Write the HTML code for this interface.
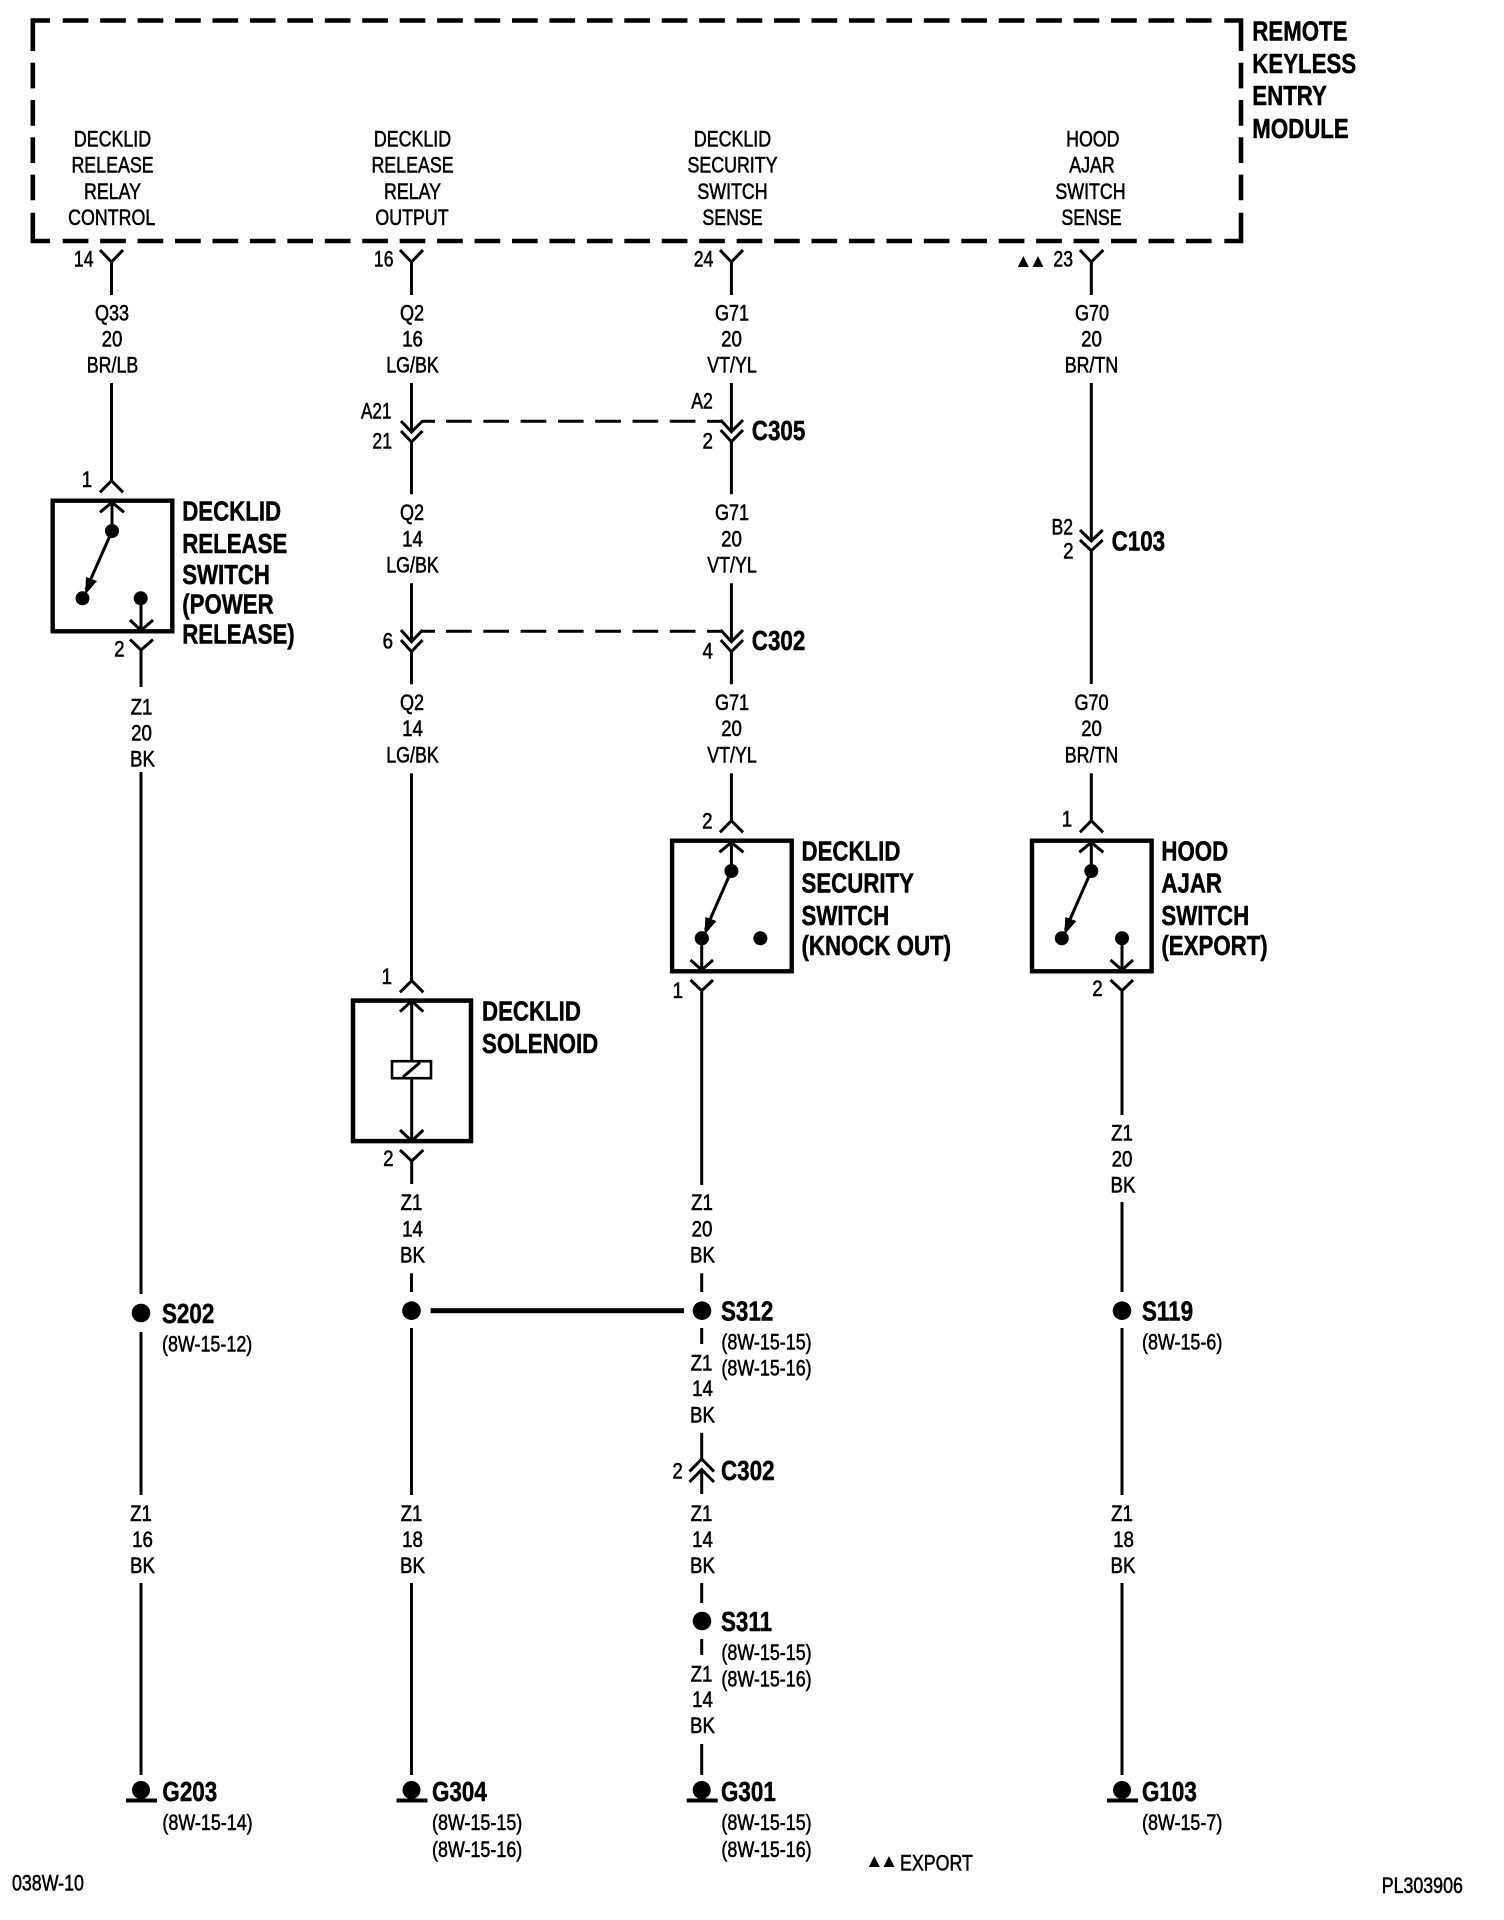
<!DOCTYPE html>
<html><head><meta charset="utf-8"><title>Wiring diagram</title>
<style>
html,body{margin:0;padding:0;background:#fff}
svg{display:block}
text{font-family:"Liberation Sans",sans-serif;fill:#000}
.t,.e,.f,.g{font-size:22px;stroke:#000;stroke-width:.55px}
.t{text-anchor:middle}
.e{text-anchor:end}
.b{font-size:28px;font-weight:700;stroke:#000;stroke-width:.5px}
.w{fill:none;stroke:#000;stroke-width:3}
</style></head><body>
<svg xmlns="http://www.w3.org/2000/svg" width="1504" height="1920" viewBox="0 0 1504 1920">
<rect width="1504" height="1920" fill="#fff"/>
<defs>
<g id="sw">
<rect x="52.7" y="500.7" width="119.6" height="130.6" fill="none" stroke="#000" stroke-width="4.4"/>
<path class="w" d="M100 512.3L112 502.3L124 512.3M112 502V531"/>
<circle cx="112" cy="531" r="7"/>
<circle cx="82.5" cy="598.3" r="7"/>
<path class="w" d="M112 531L86 590" stroke-width="2.6"/>
<polygon points="85,595 86,577 97,581"/>
</g>
</defs>

<!-- Module box -->
<g fill="none" stroke="#000" stroke-width="4.6">
<path d="M50 20.5H32.8V51"/><path d="M32.8 212.7V241H50"/>
<path d="M1224.3 20.5H1241V51"/><path d="M1241 212.7V241H1224.3"/>
<path d="M62.7 20.5H1212" stroke-dasharray="25.7 11.74"/>
<path d="M62.7 241H1212" stroke-dasharray="25.7 11.74"/>
<path d="M32.8 62.7V200.7" stroke-dasharray="25.7 11.6"/>
<path d="M1241 62.7V200.7" stroke-dasharray="25.7 11.6"/>
</g>

<!-- Wires -->
<g class="w">
<!-- column A -->
<path d="M100 250L111.5 262L123 250M111.5 262V295M111.5 383V481M100 492.3L111.5 480.7L123 492.3"/>
<path d="M130 639.5L141 650L153 639.5M141 650V687M141 772V1294M141 1332V1495M141 1583V1775"/>
<path d="M130 620L141 630.5L153 620M141 598V630"/>
<!-- column B -->
<path d="M400 250L411.5 262L423 250M411.5 262V295M411.5 383V432"/>
<path d="M401 421L411.5 432L422.5 421M401 431L411.5 442L422.5 431M411.5 442V494.3M411.5 583.3V641.7"/>
<path d="M401 630L411.5 641.7L422.5 630M401 640L411.5 651.7L422.5 640M411.5 651.7V684.3M411.5 773.3V980.7"/>
<path d="M400 992.3L411.7 980.7L423.3 992.3M400 1011.7L411.7 1001L423.3 1011.7M411.7 1001V1060M411.7 1079V1140M400 1130L411.7 1141L423.3 1130"/>
<path d="M400 1150L411.7 1161L423.3 1150M411.7 1161V1184M411.5 1273.3V1292M411.5 1328V1495M411.5 1583V1775"/>
<!-- column C -->
<path d="M720 250L731.4 262L743 250M731.4 262V295M731.4 383V431.7"/>
<path d="M720.7 420L731.4 431.7L743 420M720.7 430L731.4 441.7L743 430M731.4 441.7V494.3M731.4 583.3V641.7"/>
<path d="M720.7 630L731.4 641.7L743 630M720.7 640L731.4 651.7L743 640M731.4 651.7V684.3M731.4 773.3V821M720 832.3L731.4 820.7L743 832.3"/>
<path d="M701.7 938V970M690.5 960L701.7 970L713 960"/>
<path d="M690.5 980L701.7 990.7L713 980M701.7 990.7V1185M701.7 1273.3V1292M701.7 1328V1344M701.7 1432.7V1459"/>
<path d="M689.5 1471.6L701.7 1459L714 1471.6M689.5 1482L701.7 1469.6L714 1482M701.7 1469.6V1494M701.7 1583V1603M701.7 1639V1655M701.7 1744V1775"/>
<!-- column D -->
<path d="M1080 250L1091.3 262L1103.3 250M1091.3 262V295M1091.3 383V541"/>
<path d="M1080 530L1091.3 541L1102.7 530M1080 540L1091.3 550.7L1102.7 540M1091.3 550.7V684M1091.3 773.3V821M1080 832.3L1091.3 820.7L1103 832.3"/>
<path d="M1122 938V970M1110.5 960L1122 970L1133 960"/>
<path d="M1110.5 980L1122 990.7L1133 980M1122 990.7V1115M1122 1202V1292M1122 1328V1495M1122 1583V1775"/>
</g>

<!-- Dashed connector links -->
<g fill="none" stroke="#000" stroke-width="3">
<path d="M421.7 421.3H435M446 421.3H709" /><path d="M709 421.3H722"/>
<path d="M421.7 631.3H435M446 631.3H709"/><path d="M709 631.3H722"/>
</g>
<g stroke="#fff" stroke-width="5" fill="none">
<path d="M471.7 421.3H709" stroke-dasharray="11.6 25.7"/>
<path d="M471.7 631.3H709" stroke-dasharray="11.6 25.7"/>
</g>

<!-- Switches -->
<use href="#sw"/>
<use href="#sw" x="619.4" y="340"/>
<use href="#sw" x="979.3" y="340"/>
<circle cx="140.7" cy="598.3" r="7"/>
<circle cx="701.7" cy="938.3" r="7"/>
<circle cx="760.4" cy="938.3" r="7"/>
<circle cx="1122" cy="938.3" r="7"/>

<!-- Solenoid -->
<rect x="353" y="1000.6" width="118" height="140.5" fill="none" stroke="#000" stroke-width="4.5"/>
<rect x="392" y="1061.2" width="39" height="17" fill="#fff" stroke="#000" stroke-width="2.6"/>
<path d="M403 1077L420 1062.5" stroke="#000" stroke-width="3" fill="none"/>

<!-- Splices -->
<circle cx="141" cy="1313" r="9.3"/>
<circle cx="411.5" cy="1310.7" r="9.3"/>
<circle cx="702" cy="1310.7" r="9.3"/>
<circle cx="702" cy="1621" r="9.3"/>
<circle cx="1122" cy="1310.7" r="9.3"/>
<rect x="430.6" y="1308.2" width="253.4" height="5"/>

<!-- Grounds -->
<g id="gnd"><circle cx="141" cy="1790" r="9"/><rect x="126" y="1798.5" width="31" height="4"/></g>
<use href="#gnd" x="270.5"/>
<use href="#gnd" x="560.7"/>
<use href="#gnd" x="981"/>

<!-- Triangles -->
<polygon points="1017.8,267 1023.3,256 1028.8,267"/>
<polygon points="1032.5,267 1038,256 1043.5,267"/>
<polygon points="868.8,1867 874.3,1856 879.8,1867"/>
<polygon points="883.5,1867 889,1856 894.5,1867"/>

<!-- Module pin labels -->
<text class="t" transform="translate(112.5 146.7) scale(.81 1)">DECKLID</text>
<text class="t" transform="translate(112.5 172.7) scale(.81 1)">RELEASE</text>
<text class="t" transform="translate(112.5 199) scale(.81 1)">RELAY</text>
<text class="t" transform="translate(111.7 225) scale(.81 1)">CONTROL</text>
<text class="t" transform="translate(412.5 146.7) scale(.81 1)">DECKLID</text>
<text class="t" transform="translate(412.5 172.7) scale(.81 1)">RELEASE</text>
<text class="t" transform="translate(412.5 199) scale(.81 1)">RELAY</text>
<text class="t" transform="translate(412 225) scale(.81 1)">OUTPUT</text>
<text class="t" transform="translate(732.5 146.7) scale(.81 1)">DECKLID</text>
<text class="t" transform="translate(732.5 172.7) scale(.81 1)">SECURITY</text>
<text class="t" transform="translate(732.5 199) scale(.81 1)">SWITCH</text>
<text class="t" transform="translate(732.5 225) scale(.81 1)">SENSE</text>
<text class="t" transform="translate(1092.8 146.7) scale(.81 1)">HOOD</text>
<text class="t" transform="translate(1092 172.7) scale(.81 1)">AJAR</text>
<text class="t" transform="translate(1090.5 199) scale(.81 1)">SWITCH</text>
<text class="t" transform="translate(1091.5 225) scale(.81 1)">SENSE</text>

<!-- Pin numbers -->
<text class="e" transform="translate(93.5 266.7) scale(.8 1)">14</text>
<text class="e" transform="translate(393.5 266.7) scale(.8 1)">16</text>
<text class="e" transform="translate(713.3 266.7) scale(.8 1)">24</text>
<text class="e" transform="translate(1073 266.7) scale(.8 1)">23</text>
<text class="e" transform="translate(92.2 487) scale(.85 1)">1</text>
<text class="e" transform="translate(124.5 656.7) scale(.85 1)">2</text>
<text class="e" transform="translate(391.5 418.3) scale(.78 1)">A21</text>
<text class="e" transform="translate(392 448.3) scale(.8 1)">21</text>
<text class="e" transform="translate(712.8 408.3) scale(.8 1)">A2</text>
<text class="e" transform="translate(712.9 448.3) scale(.85 1)">2</text>
<text class="e" transform="translate(393 648.3) scale(.85 1)">6</text>
<text class="e" transform="translate(712.9 658.3) scale(.85 1)">4</text>
<text class="e" transform="translate(1073 534.3) scale(.8 1)">B2</text>
<text class="e" transform="translate(1073.5 558.3) scale(.85 1)">2</text>
<text class="e" transform="translate(392 984) scale(.85 1)">1</text>
<text class="e" transform="translate(393.5 1166) scale(.85 1)">2</text>
<text class="e" transform="translate(712.5 828.3) scale(.85 1)">2</text>
<text class="e" transform="translate(1072.2 826.7) scale(.85 1)">1</text>
<text class="e" transform="translate(683 998) scale(.85 1)">1</text>
<text class="e" transform="translate(1102.6 996) scale(.85 1)">2</text>
<text class="e" transform="translate(682.8 1478.6) scale(.85 1)">2</text>

<!-- Wire labels: column A -->
<text class="t" transform="translate(112 320.7) scale(.82 1)">Q33</text>
<text class="t" transform="translate(112 346.7) scale(.85 1)">20</text>
<text class="t" transform="translate(112.5 372.3) scale(.81 1)">BR/LB</text>
<text class="t" transform="translate(141.5 714.6) scale(.85 1)">Z1</text>
<text class="t" transform="translate(141.5 740.6) scale(.85 1)">20</text>
<text class="t" transform="translate(142.5 766.4) scale(.85 1)">BK</text>
<text class="t" transform="translate(141 1521) scale(.85 1)">Z1</text>
<text class="t" transform="translate(142.5 1547) scale(.85 1)">16</text>
<text class="t" transform="translate(142.5 1573) scale(.85 1)">BK</text>

<!-- column B -->
<text class="t" transform="translate(412 320.7) scale(.82 1)">Q2</text>
<text class="t" transform="translate(412.5 346.7) scale(.85 1)">16</text>
<text class="t" transform="translate(412.5 372.3) scale(.81 1)">LG/BK</text>
<text class="t" transform="translate(412 520) scale(.82 1)">Q2</text>
<text class="t" transform="translate(412.5 546.7) scale(.85 1)">14</text>
<text class="t" transform="translate(412.5 572.7) scale(.81 1)">LG/BK</text>
<text class="t" transform="translate(412 710) scale(.82 1)">Q2</text>
<text class="t" transform="translate(412.5 736) scale(.85 1)">14</text>
<text class="t" transform="translate(412.5 762.7) scale(.81 1)">LG/BK</text>
<text class="t" transform="translate(411.5 1210) scale(.85 1)">Z1</text>
<text class="t" transform="translate(412.5 1236.7) scale(.85 1)">14</text>
<text class="t" transform="translate(412.5 1262.7) scale(.85 1)">BK</text>
<text class="t" transform="translate(411.5 1521) scale(.85 1)">Z1</text>
<text class="t" transform="translate(412.5 1547) scale(.85 1)">18</text>
<text class="t" transform="translate(412.5 1573) scale(.85 1)">BK</text>

<!-- column C -->
<text class="t" transform="translate(732 320.7) scale(.82 1)">G71</text>
<text class="t" transform="translate(731.5 346.7) scale(.85 1)">20</text>
<text class="t" transform="translate(732 372.3) scale(.81 1)">VT/YL</text>
<text class="t" transform="translate(732 520) scale(.82 1)">G71</text>
<text class="t" transform="translate(731.5 546.7) scale(.85 1)">20</text>
<text class="t" transform="translate(732 572.7) scale(.81 1)">VT/YL</text>
<text class="t" transform="translate(732 710) scale(.82 1)">G71</text>
<text class="t" transform="translate(731.5 736) scale(.85 1)">20</text>
<text class="t" transform="translate(732 762.7) scale(.81 1)">VT/YL</text>
<text class="t" transform="translate(702 1210) scale(.85 1)">Z1</text>
<text class="t" transform="translate(702 1236.7) scale(.85 1)">20</text>
<text class="t" transform="translate(702.5 1262.7) scale(.85 1)">BK</text>
<text class="t" transform="translate(701.5 1370.5) scale(.85 1)">Z1</text>
<text class="t" transform="translate(702.5 1396) scale(.85 1)">14</text>
<text class="t" transform="translate(702.5 1422.4) scale(.85 1)">BK</text>
<text class="t" transform="translate(701.5 1521) scale(.85 1)">Z1</text>
<text class="t" transform="translate(702.5 1547) scale(.85 1)">14</text>
<text class="t" transform="translate(702.5 1573) scale(.85 1)">BK</text>
<text class="t" transform="translate(701.5 1681.5) scale(.85 1)">Z1</text>
<text class="t" transform="translate(702.5 1707) scale(.85 1)">14</text>
<text class="t" transform="translate(702.5 1733) scale(.85 1)">BK</text>

<!-- column D -->
<text class="t" transform="translate(1092 320.7) scale(.82 1)">G70</text>
<text class="t" transform="translate(1091.5 346.7) scale(.85 1)">20</text>
<text class="t" transform="translate(1091.5 372.3) scale(.81 1)">BR/TN</text>
<text class="t" transform="translate(1091.5 710) scale(.82 1)">G70</text>
<text class="t" transform="translate(1091.5 736) scale(.85 1)">20</text>
<text class="t" transform="translate(1091.5 762.7) scale(.81 1)">BR/TN</text>
<text class="t" transform="translate(1122 1140.7) scale(.85 1)">Z1</text>
<text class="t" transform="translate(1122 1166.7) scale(.85 1)">20</text>
<text class="t" transform="translate(1123 1192.7) scale(.85 1)">BK</text>
<text class="t" transform="translate(1122 1521) scale(.85 1)">Z1</text>
<text class="t" transform="translate(1123.5 1547) scale(.85 1)">18</text>
<text class="t" transform="translate(1123 1573) scale(.85 1)">BK</text>

<!-- Bold component labels -->
<text class="b" transform="translate(1252.3 40.3) scale(.795 1)">REMOTE</text>
<text class="b" transform="translate(1252.3 72.8) scale(.795 1)">KEYLESS</text>
<text class="b" transform="translate(1252.3 105.2) scale(.795 1)">ENTRY</text>
<text class="b" transform="translate(1252.3 137.8) scale(.795 1)">MODULE</text>
<text class="b" transform="translate(182.2 520.7) scale(.795 1)">DECKLID</text>
<text class="b" transform="translate(182.2 553) scale(.795 1)">RELEASE</text>
<text class="b" transform="translate(182.2 584) scale(.795 1)">SWITCH</text>
<text class="b" transform="translate(182.2 613.6) scale(.795 1)">(POWER</text>
<text class="b" transform="translate(182.2 643.4) scale(.795 1)">RELEASE)</text>
<text class="b" transform="translate(482 1020.7) scale(.795 1)">DECKLID</text>
<text class="b" transform="translate(482 1053) scale(.795 1)">SOLENOID</text>
<text class="b" transform="translate(801.5 860.7) scale(.795 1)">DECKLID</text>
<text class="b" transform="translate(801.5 892.7) scale(.795 1)">SECURITY</text>
<text class="b" transform="translate(801.5 925) scale(.795 1)">SWITCH</text>
<text class="b" transform="translate(801.5 955) scale(.795 1)">(KNOCK OUT)</text>
<text class="b" transform="translate(1161.4 860.7) scale(.795 1)">HOOD</text>
<text class="b" transform="translate(1161.4 892.7) scale(.795 1)">AJAR</text>
<text class="b" transform="translate(1161.4 925) scale(.795 1)">SWITCH</text>
<text class="b" transform="translate(1161.4 955) scale(.795 1)">(EXPORT)</text>
<text class="b" transform="translate(751.8 440) scale(.8 1)">C305</text>
<text class="b" transform="translate(751.8 650) scale(.8 1)">C302</text>
<text class="b" transform="translate(1111.6 550.7) scale(.8 1)">C103</text>
<text class="b" transform="translate(721 1480) scale(.8 1)">C302</text>
<text class="b" transform="translate(162 1323) scale(.8 1)">S202</text>
<text class="b" transform="translate(721 1320.5) scale(.8 1)">S312</text>
<text class="b" transform="translate(721 1631) scale(.8 1)">S311</text>
<text class="b" transform="translate(1142 1320.5) scale(.8 1)">S119</text>
<text class="b" transform="translate(162.4 1801) scale(.8 1)">G203</text>
<text class="b" transform="translate(432 1801) scale(.8 1)">G304</text>
<text class="b" transform="translate(721 1801) scale(.8 1)">G301</text>
<text class="b" transform="translate(1142 1801) scale(.8 1)">G103</text>

<!-- Refs -->
<text class="f" transform="translate(162 1351.7) scale(.815 1)">(8W-15-12)</text>
<text class="f" transform="translate(721.4 1349.4) scale(.815 1)">(8W-15-15)</text>
<text class="f" transform="translate(721.4 1375.5) scale(.815 1)">(8W-15-16)</text>
<text class="f" transform="translate(721.4 1660) scale(.815 1)">(8W-15-15)</text>
<text class="f" transform="translate(721.4 1686.5) scale(.815 1)">(8W-15-16)</text>
<text class="f" transform="translate(1142 1349.5) scale(.815 1)">(8W-15-6)</text>
<text class="f" transform="translate(162.4 1830) scale(.815 1)">(8W-15-14)</text>
<text class="f" transform="translate(432 1830) scale(.815 1)">(8W-15-15)</text>
<text class="f" transform="translate(432 1857) scale(.815 1)">(8W-15-16)</text>
<text class="f" transform="translate(721.4 1830) scale(.815 1)">(8W-15-15)</text>
<text class="f" transform="translate(721.4 1857) scale(.815 1)">(8W-15-16)</text>
<text class="f" transform="translate(1142 1830) scale(.815 1)">(8W-15-7)</text>

<!-- Footer -->
<text class="g" transform="translate(12 1890.7) scale(.81 1)">038W-10</text>
<text class="g" transform="translate(900 1870.7) scale(.81 1)">EXPORT</text>
<text class="g" transform="translate(1381.7 1893) scale(.81 1)">PL303906</text>
</svg>
</body></html>
